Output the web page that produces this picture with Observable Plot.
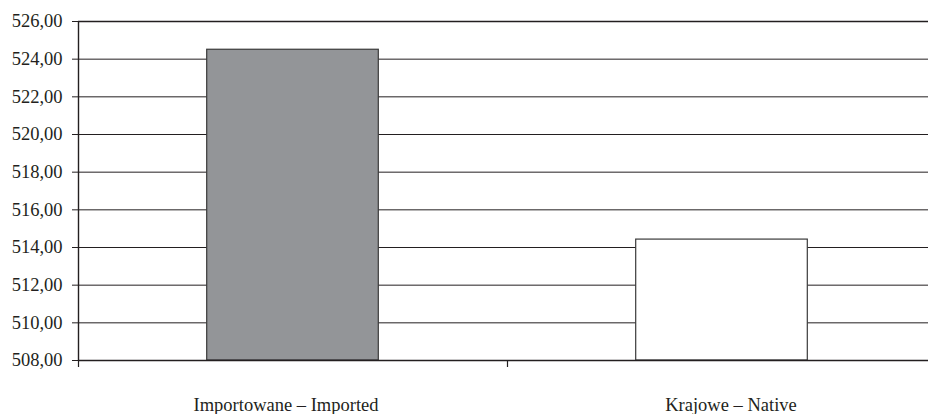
<!DOCTYPE html>
<html>
<head>
<meta charset="utf-8">
<script src="https://cdn.jsdelivr.net/npm/d3@7"></script>
<script src="https://cdn.jsdelivr.net/npm/@observablehq/plot@0.6"></script>
<style>
  html, body { margin: 0; padding: 0; background: #fff; }
  #chart svg, #chart svg text { font-family: "Liberation Serif", "Times New Roman", Times, "DejaVu Serif", serif !important; }
</style>
</head>
<body>
<div id="chart"></div>
<script>
const categories = ["Importowane – Imported", "Krajowe – Native"];
const values = [524.5, 514.42];
const fills = ["#939598", "#ffffff"];
const yTicks = [508, 510, 512, 514, 516, 518, 520, 522, 524, 526];
const bandEdges = [0, 1, 2];

const data = categories.map((c, i) => ({category: c, index: i, value: values[i], fill: fills[i]}));
const fmt = d => d.toFixed(2).replace(".", ",");
const yMin = yTicks[0], yMax = yTicks[yTicks.length - 1];
const serif = "'Liberation Serif', 'Times New Roman', Times, 'DejaVu Serif', serif";

const labelMark = (i, dx) => Plot.text(data.filter(d => d.index === i), {
  x: d => d.index + 0.5,
  y: yMin,
  text: "category",
  dy: 45,
  dx,
  fill: "#231f20",
  fontSize: 18.5,
  fontFamily: serif
});

const chart = Plot.plot({
  width: 928,
  height: 414,
  marginLeft: 78,
  marginRight: 0,
  marginTop: 21,
  marginBottom: 54,
  style: {fontFamily: serif, fontSize: "18.5px", color: "#231f20", background: "#fff"},
  x: {type: "linear", domain: [0, 2], range: [78, 936]},
  y: {domain: [yMin, yMax], range: [360, 21]},
  marks: [
    Plot.ruleY(yTicks.filter(t => t !== yMin && t !== yMax), {stroke: "#231f20", strokeWidth: 1}),
    Plot.ruleY([yMax], {stroke: "#231f20", strokeWidth: 1.6}),
    Plot.rect(data, {
      x1: d => d.index + 0.3,
      x2: d => d.index + 0.7,
      y1: yMin,
      y2: "value",
      fill: "fill",
      stroke: "#3a3a3a",
      strokeWidth: 1.2
    }),
    Plot.ruleY([yMin], {stroke: "#231f20", strokeWidth: 1.6}),
    Plot.ruleX([0], {y1: yMin, y2: yMax, stroke: "#231f20", strokeWidth: 1.4}),
    Plot.axisY({ticks: yTicks, tickSize: 6, tickPadding: 10, tickFormat: fmt, label: null, stroke: "#231f20", fill: "#231f20", fontSize: 18.5, fontFamily: serif}),
    Plot.axisX({ticks: bandEdges, tickSize: 7, tickFormat: () => "", label: null, stroke: "#231f20", strokeWidth: 1.2}),
    labelMark(0, -7),
    labelMark(1, 9)
  ]
});
document.getElementById("chart").appendChild(chart);
</script>
</body>
</html>
